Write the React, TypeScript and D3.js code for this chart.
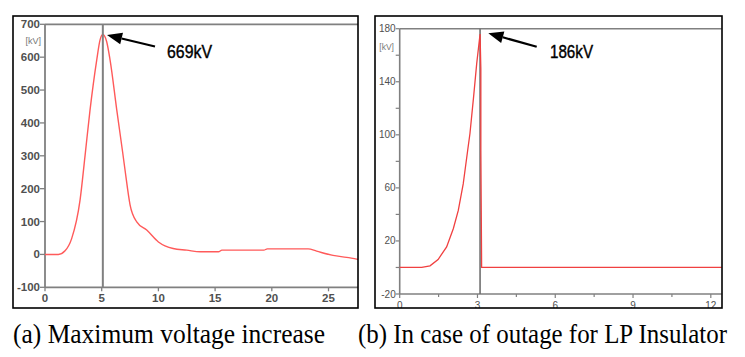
import React from "react";
import * as d3 from "d3";

// Panel (a): maximum voltage increase
const aTime = [0, 1.18, 1.77, 2.35, 3.09, 3.53, 3.97, 4.56, 4.85, 5.1, 5.44, 5.74, 6.33, 6.85, 7.06, 7.5, 8.09, 8.97, 10, 11.3, 12.5, 13.7, 15.3, 15.6, 19.3, 19.6, 23.2, 23.95, 25.4, 26.6, 27.6];
const aVolt = [0, 0, 11, 48, 165, 300, 439, 591, 652, 669, 647, 591, 439, 310, 256, 151, 99, 74, 38, 18, 13, 8, 8, 13, 13, 17, 17, 10, -3, -9, -15];
const aYTicks = [-100, 0, 100, 200, 300, 400, 500, 600, 700];
const aXTicks = [0, 5, 10, 15, 20, 25];

// Panel (b): outage for LP insulator
const bTime = [0, 0.85, 1.17, 1.48, 1.81, 2.07, 2.26, 2.45, 2.62, 2.71, 2.85, 2.97, 3.1, 3.13, 3.13, 3.16, 12.42];
const bVolt = [0, 0, 1.2, 6, 15.5, 29.4, 43, 63, 88, 101, 128.6, 153.7, 176, 150, 88, 0, 0];
const bYLabelTicks = [-20, 20, 60, 100, 140, 180];
const bYMinorTicks = [0, 40, 80, 120, 160];
const bXTicks = [0, 3, 6, 9, 12];
const bXMinorTicks = [1.5, 4.5, 7.5, 10.5];

const captions = ["(a) Maximum voltage increase", "(b) In case of outage for LP Insulator"];
const peaks = ["669kV", "186kV"];

const AXIS = "#808080";
const LABEL = "#505050";

export default function App() {
  const ax = d3.scaleLinear().domain([0, 27.6]).range([45, 358]);
  const ay = d3.scaleLinear().domain([-100, 700]).range([287.3, 24.3]);
  const bx = d3.scaleLinear().domain([0, 12.42]).range([399.7, 721.7]);
  const by = d3.scaleLinear().domain([-20, 180]).range([294, 28.7]);

  const aLine = d3.line<number>().x((_, i) => ax(aTime[i])).y((d) => ay(d)).curve(d3.curveMonotoneX);
  const bLineRise = d3.line<number>().x((_, i) => bx(bTime[i])).y((d) => by(d));

  const arrow = (x1: number, y1: number, x2: number, y2: number) => {
    const ang = Math.atan2(y2 - y1, x2 - x1);
    const L = 15, W = 6;
    const bxp = x2 - L * Math.cos(ang), byp = y2 - L * Math.sin(ang);
    const px = -Math.sin(ang), py = Math.cos(ang);
    const pts = `${x2},${y2} ${bxp + W * px},${byp + W * py} ${bxp - W * px},${byp - W * py}`;
    return (
      <g>
        <line x1={x1} y1={y1} x2={bxp} y2={byp} stroke="#000" strokeWidth={2.2} />
        <polygon points={pts} fill="#000" />
      </g>
    );
  };

  return (
    <svg width={745} height={357} style={{ position: "absolute", left: 0, top: 0, background: "#fff" }}
      fontFamily="'Liberation Sans', Arial, sans-serif">
      <defs>
        <clipPath id="clipA"><rect x={13} y={16} width={345} height={292} /></clipPath>
        <clipPath id="clipB"><rect x={375} y={16} width={347} height={292} /></clipPath>
      </defs>
      <rect x={0} y={0} width={745} height={357} fill="#fff" />

      {/* Panel A */}
      <g clipPath="url(#clipA)">
        <line x1={ax(0)} x2={ax(27.6)} y1={ay(700)} y2={ay(700)} stroke={AXIS} strokeWidth={1.8} />
        <line x1={ax(0)} x2={ax(0)} y1={ay(700)} y2={ay(-100)} stroke={AXIS} strokeWidth={1.8} />
        <line x1={ax(0)} x2={ax(27.6)} y1={ay(-100)} y2={ay(-100)} stroke={AXIS} strokeWidth={1.8} />
        {aYTicks.map((t) => (
          <g key={"ay" + t}>
            <line x1={ax(0) - 5} x2={ax(0)} y1={ay(t)} y2={ay(t)} stroke={AXIS} strokeWidth={1.3} />
            <text x={ax(0) - 5} y={ay(t) + 4} textAnchor="end" fontSize={11.5} fontWeight="bold" fill={LABEL}>{t}</text>
          </g>
        ))}
        <text x={41} y={44} textAnchor="end" fontSize={9} fill="#777">[kV]</text>
        {aXTicks.map((t) => (
          <g key={"ax" + t}>
            <line x1={ax(t)} x2={ax(t)} y1={ay(-100)} y2={ay(-100) + 4} stroke={AXIS} strokeWidth={1.3} />
            <text x={ax(t)} y={302} textAnchor="middle" fontSize={11.5} fontWeight="bold" fill={LABEL}>{t}</text>
          </g>
        ))}
        <path d={aLine(aVolt) || ""} fill="none" stroke="#ff5a5a" strokeWidth={1.4} />
        <line x1={ax(5.1)} x2={ax(5.1)} y1={ay(700)} y2={ay(-100)} stroke={AXIS} strokeWidth={2} />
      </g>
      <rect x={13} y={16} width={345} height={292} fill="none" stroke="#000" strokeWidth={1.6} />
      {arrow(155, 46.5, 107, 35)}
      <text x={167} y={58} fontSize={18} textLength={45} lengthAdjust="spacingAndGlyphs" fill="#000" stroke="#000" strokeWidth={0.4}>{peaks[0]}</text>

      {/* Panel B */}
      <g clipPath="url(#clipB)">
        <line x1={bx(0)} x2={bx(12.42)} y1={by(180)} y2={by(180)} stroke={AXIS} strokeWidth={1.6} />
        <line x1={bx(0)} x2={bx(0)} y1={by(180)} y2={by(-20)} stroke={AXIS} strokeWidth={1.6} />
        <line x1={bx(0)} x2={bx(12.42)} y1={by(-20)} y2={by(-20)} stroke={AXIS} strokeWidth={1.6} />
        {bYLabelTicks.map((t) => (
          <g key={"by" + t}>
            <line x1={bx(0) - 4} x2={bx(0)} y1={by(t)} y2={by(t)} stroke={AXIS} strokeWidth={1.2} />
            <text x={bx(0) - 4} y={by(t) + 3.5} textAnchor="end" fontSize={10} fill={LABEL}>{t}</text>
          </g>
        ))}
        {bYMinorTicks.map((t) => (
          <line key={"bym" + t} x1={bx(0) - 4} x2={bx(0)} y1={by(t)} y2={by(t)} stroke={AXIS} strokeWidth={1.2} />
        ))}
        <text x={394} y={50} textAnchor="end" fontSize={8.5} fill="#777">[kV]</text>
        {bXTicks.map((t) => (
          <g key={"bx" + t}>
            <line x1={bx(t)} x2={bx(t)} y1={by(-20)} y2={by(-20) + 4} stroke={AXIS} strokeWidth={1.2} />
            <text x={bx(t)} y={309} textAnchor="middle" fontSize={10} fill={LABEL}>{t}</text>
          </g>
        ))}
        {bXMinorTicks.map((t) => (
          <line key={"bxm" + t} x1={bx(t)} x2={bx(t)} y1={by(-20)} y2={by(-20) + 3} stroke={AXIS} strokeWidth={1.2} />
        ))}
        <line x1={bx(3.1)} x2={bx(3.1)} y1={by(180)} y2={by(-20)} stroke="#707070" strokeWidth={1.6} />
        <path d={bLineRise(bVolt) || ""} fill="none" stroke="#f04040" strokeWidth={1.3} />
      </g>
      <rect x={375} y={16} width={347} height={292} fill="none" stroke="#000" strokeWidth={1.6} />
      {arrow(536.7, 46.7, 488.3, 33.3)}
      <text x={550} y={58.3} fontSize={18} textLength={43} lengthAdjust="spacingAndGlyphs" fill="#000" stroke="#000" strokeWidth={0.4}>{peaks[1]}</text>

      {/* Captions */}
      <text x={13} y={343} fontSize={27} fontFamily="'Liberation Serif', 'DejaVu Serif', serif" textLength={312} lengthAdjust="spacingAndGlyphs" fill="#000">{captions[0]}</text>
      <text x={358} y={343} fontSize={27} fontFamily="'Liberation Serif', 'DejaVu Serif', serif" textLength={369} lengthAdjust="spacingAndGlyphs" fill="#000">{captions[1]}</text>
    </svg>
  );
}
